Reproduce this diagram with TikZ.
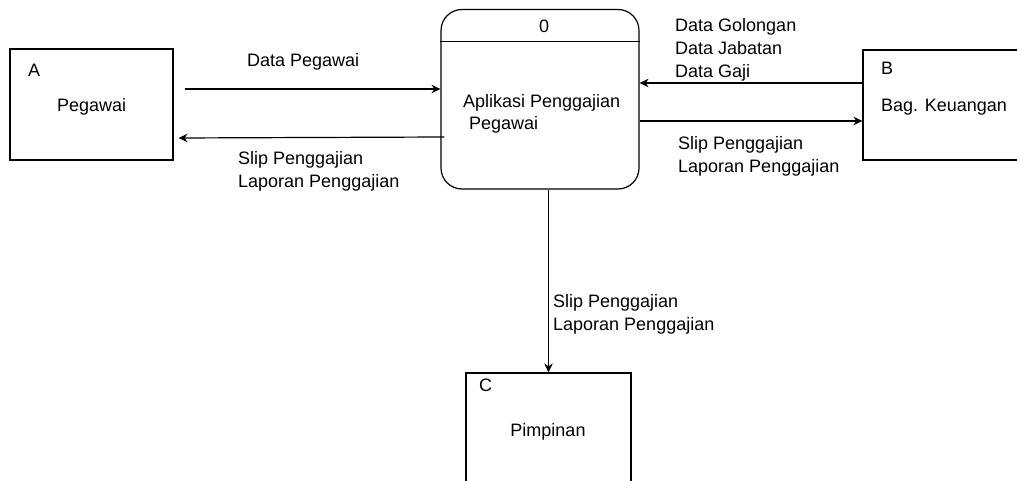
\documentclass[tikz,border=0pt]{standalone}
\usepackage{fontspec}
\setmainfont{Liberation Sans}
\usetikzlibrary{arrows.meta,calc}
\begin{document}
\begin{tikzpicture}[x=1pt,y=1pt,
  every node/.style={font=\fontsize{18}{22.5}\selectfont},
  ent/.style={draw, line width=1.2pt, rectangle, inner sep=0pt},
  proc/.style={draw, line width=1.2pt, rectangle, rounded corners=21pt, inner sep=0pt, minimum width=198pt, minimum height=179.5pt},
  lbl/.style={anchor=base west, inner sep=0pt},
  arr/.style={line width=1.2pt, -{Stealth[length=9pt,width=8.5pt,inset=3pt]}}]
\useasboundingbox (0,0) rectangle (1017,-481);
\clip (0,0) rectangle (1017,-481);
% entities
\node[ent, minimum width=185pt, minimum height=110pt] (B) at (955.5,-105) {};
\node[ent, minimum width=163pt, minimum height=111pt] (A) at (91.5,-104.5) {};
\node[ent, minimum width=165pt, minimum height=120pt] (C) at (548.5,-433) {};
\node[proc] (P) at (540,-99.25) {};
\draw[line width=1.2pt] ([yshift=-32.5pt]P.north west) -- ([yshift=-32.5pt]P.north east);
% texts in boxes
\node[lbl] (Aid) at (28,-77) {A};
\node[lbl] (Aname) at (57,-112) {Pegawai};
\node[lbl] (Bid) at (881,-75) {B};
\node[lbl] (Bname) at (881,-112) {Bag. Keuangan};
\node[lbl] (Cid) at (479,-391) {C};
\node[anchor=base, inner sep=0pt] (Cname) at (548,-436) {Pimpinan};
\node[anchor=base, inner sep=0pt] (Pid) at (544,-33) {0};
\node[lbl] (Pname1) at (463,-108) {Aplikasi Penggajian};
\node[lbl] (Pname2) at (469,-130) {Pegawai};
% connectors
\draw[arr] ([shift={(11pt,15.5pt)}]A.east) -- ($(P.west)+(0,10.25)$);
\draw[arr] ($(P.west)+(4,-37.75)$) -- ([shift={(5pt,-33.5pt)}]A.east);
\draw[arr] ([yshift=22pt]B.west) -- ($(P.east)+(0,16.25)$);
\draw[arr] ($(P.east)+(0,-21.75)$) -- ([yshift=-16pt]B.west);
\draw[arr] (P.south -| C.north) -- (C.north);
% flow labels
\node[lbl] (l1) at (247,-66.5) {Data Pegawai};
\node[lbl] (l2) at (238,-165) {Slip Penggajian};
\node[lbl] (l3) at (238,-187.5) {Laporan Penggajian};
\node[lbl] (l4) at (675,-32) {Data Golongan};
\node[lbl] (l5) at (675,-55) {Data Jabatan};
\node[lbl] (l6) at (675,-78) {Data Gaji};
\node[lbl] (l7) at (678,-150) {Slip Penggajian};
\node[lbl] (l8) at (678,-173) {Laporan Penggajian};
\node[lbl] (l9) at (553,-307) {Slip Penggajian};
\node[lbl] (l10) at (553,-330) {Laporan Penggajian};
\end{tikzpicture}
\end{document}
